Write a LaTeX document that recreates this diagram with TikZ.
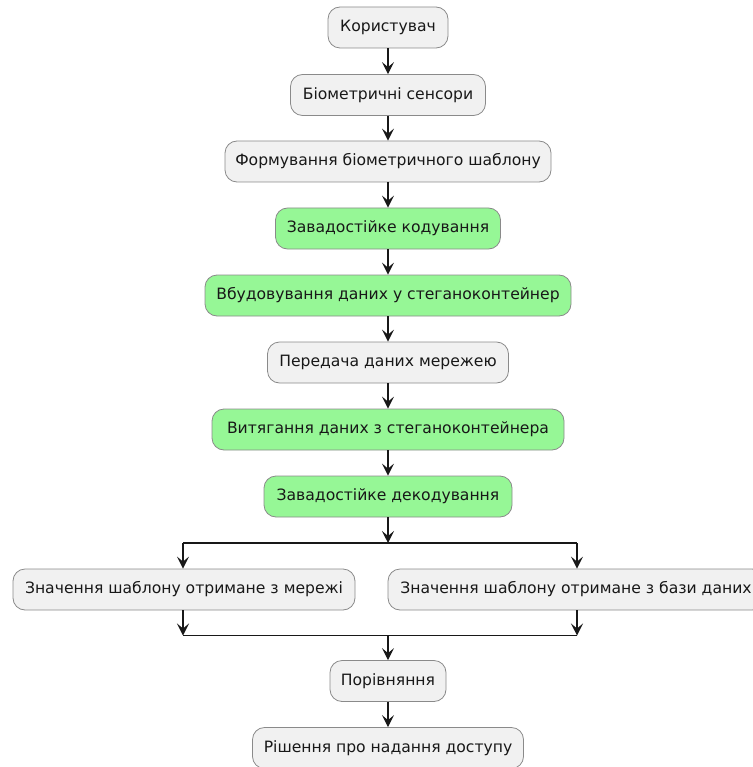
\documentclass[tikz,border=0pt]{standalone}
\usepackage{fontspec}
\setmainfont{DejaVu Sans}
\usetikzlibrary{arrows.meta}
\definecolor{actfill}{HTML}{F1F1F1}
\definecolor{actline}{HTML}{181818}
\definecolor{actedge}{HTML}{8A8A8A}
\definecolor{actgreen}{HTML}{96F796}
\tikzset{
  act/.style={draw=actedge, line width=0.8pt, fill=actfill, rounded corners=12pt,
    minimum height=41pt, inner xsep=4pt, font=\fontsize{15.6}{18}\selectfont, text=actline},
  actg/.style={act, fill=actgreen},
  flow/.style={draw=actline, line width=1.2pt, -{Stealth[length=12pt,width=12pt,inset=5pt]}},
  bar/.style={draw=actline, line width=1.6pt}
}
\begin{document}
\begin{tikzpicture}[x=1pt,y=-1pt]
\useasboundingbox (0,0) rectangle (752,767);
\node[act, minimum width=120pt]  (user) at (388,27.5)  {Користувач};
\node[act, minimum width=195pt]  (sens) at (388,95)  {Біометричні сенсори};
\node[act, minimum width=326pt]  (tmpl) at (388,161.5) {Формування біометричного шаблону};
\node[actg, minimum width=225pt] (enc)  at (388,228.5) {Завадостійке кодування};
\node[actg, minimum width=366pt] (emb)  at (388,295.5) {Вбудовування даних у стеганоконтейнер};
\node[act, minimum width=241pt]  (net)  at (388,362.5) {Передача даних мережею};
\node[actg, minimum width=352pt] (ext)  at (388,429.5) {Витягання даних з стеганоконтейнера};
\node[actg, minimum width=248pt] (dec)  at (388,496.5) {Завадостійке декодування};
\node[act, minimum width=342pt]  (fromnet) at (184,589.5) {Значення шаблону отримане з мережі};
\node[act, minimum width=376pt]  (fromdb)  at (576,589.5) {Значення шаблону отримане з бази даних};
\node[act, minimum width=116pt]  (cmp)  at (388,681) {Порівняння};
\node[act, minimum width=271pt]  (dcs)  at (388,748) {Рішення про надання доступу};

\coordinate (forkL) at (183,543);
\coordinate (forkR) at (577,543);
\coordinate (forkC) at (388,543);
\coordinate (joinL) at (183,635.5);
\coordinate (joinR) at (577,635.5);
\coordinate (joinC) at (388,635.5);

\draw[flow] (user) -- (sens);
\draw[flow] (sens) -- (tmpl);
\draw[flow] (tmpl) -- (enc);
\draw[flow] (enc) -- (emb);
\draw[flow] (emb) -- (net);
\draw[flow] (net) -- (ext);
\draw[flow] (ext) -- (dec);
\draw[flow] (dec) -- (forkC);
\draw[bar] (forkL) -- (forkR);
\draw[flow] (forkL) -- (fromnet.north -| forkL);
\draw[flow] (forkR) -- (fromdb.north -| forkR);
\draw[flow] (fromnet.south -| joinL) -- (joinL);
\draw[flow] (fromdb.south -| joinR) -- (joinR);
\draw[bar] (joinL) -- (joinR);
\draw[flow] (joinC) -- (cmp);
\draw[flow] (cmp) -- (dcs);
\end{tikzpicture}
\end{document}
